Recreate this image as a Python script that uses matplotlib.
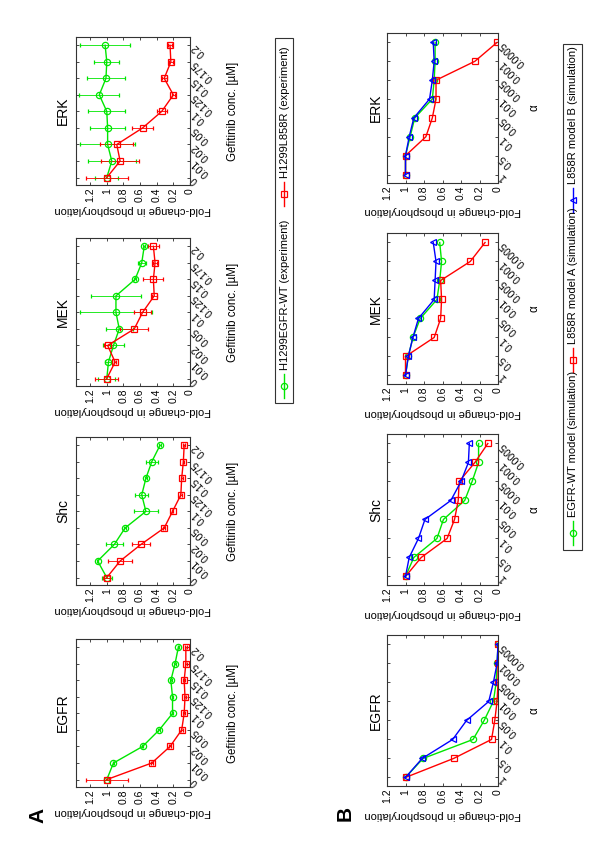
import matplotlib
matplotlib.use('Agg')
import matplotlib.pyplot as plt
from matplotlib.lines import Line2D
from matplotlib.patches import Rectangle
import numpy as np

plt.rcParams['font.family'] = ['Liberation Sans', 'DejaVu Sans']

## DATA
gef_conc = ['0', '0.01', '0.02', '0.05', '0.1', '0.125', '0.15', '0.175', '0.2']
alpha_vals = ['1', '0.5', '0.1', '0.05', '0.01', '0.005', '0.001', '0.0005']
fold_ticks = [0, 0.2, 0.4, 0.6, 0.8, 1.0, 1.2]
fold_labels = ['0', '0.2', '0.4', '0.6', '0.8', '1', '1.2']

# panel A - experiments (H1299EGFR-WT = wt, H1299L858R = mut)
egfr_wt = [1.0, 0.92, 0.57, 0.37, 0.21, 0.21, 0.23, 0.18, 0.14]
egfr_wt_err = [0.03, 0.01, 0.01, 0.01, 0.01, 0.01, 0.01, 0.01, 0.01]
egfr_mut = [1.0, 0.46, 0.24, 0.10, 0.07, 0.06, 0.07, 0.05, 0.05]
egfr_mut_err = [0.25, 0.01, 0.01, 0.01, 0.01, 0.01, 0.01, 0.01, 0.01]

shc_wt = [1.0, 1.11, 0.91, 0.78, 0.53, 0.58, 0.53, 0.46, 0.36]
shc_wt_err = [0.06, 0.01, 0.10, 0.01, 0.14, 0.08, 0.01, 0.07, 0.01]
shc_mut = [1.0, 0.84, 0.59, 0.31, 0.21, 0.11, 0.10, 0.08, 0.07]
shc_mut_err = [0.04, 0.14, 0.11, 0.01, 0.01, 0.01, 0.01, 0.01, 0.01]

mek_wt = [1.0, 0.98, 0.92, 0.85, 0.89, 0.89, 0.66, 0.58, 0.55]
mek_wt_err = [0.10, 0.04, 0.13, 0.16, 0.43, 0.30, 0.01, 0.05, 0.01]
mek_mut = [1.0, 0.90, 0.99, 0.67, 0.57, 0.43, 0.44, 0.42, 0.44]
mek_mut_err = [0.14, 0.01, 0.04, 0.17, 0.10, 0.03, 0.12, 0.02, 0.07]

erk_wt = [1.0, 0.94, 0.99, 0.99, 1.0, 1.09, 1.01, 1.0, 1.02]
erk_wt_err = [0.14, 0.29, 0.33, 0.21, 0.22, 0.24, 0.23, 0.15, 0.30]
erk_mut = [1.0, 0.84, 0.88, 0.57, 0.34, 0.20, 0.31, 0.23, 0.24]
erk_mut_err = [0.25, 0.23, 0.20, 0.13, 0.06, 0.02, 0.03, 0.02, 0.02]

# panel B - simulations (wt, model A, model B)
egfr_sim_wt = [1.0, 0.81, 0.27, 0.15, 0.05, 0.02, 0.01, 0.0]
egfr_sim_a = [1.0, 0.48, 0.07, 0.035, 0.01, 0.0, 0.0, 0.0]
egfr_sim_b = [1.0, 0.82, 0.49, 0.34, 0.10, 0.05, 0.01, 0.0]

shc_sim_wt = [1.0, 0.91, 0.66, 0.59, 0.36, 0.28, 0.21, 0.21]
shc_sim_a = [1.0, 0.83, 0.55, 0.47, 0.43, 0.42, 0.25, 0.11]
shc_sim_b = [1.0, 0.96, 0.86, 0.79, 0.51, 0.40, 0.32, 0.31]

mek_sim_wt = [1.0, 0.97, 0.92, 0.84, 0.66, 0.63, 0.61, 0.63]
mek_sim_a = [1.0, 1.0, 0.69, 0.62, 0.61, 0.62, 0.30, 0.14]
mek_sim_b = [1.0, 0.97, 0.92, 0.86, 0.69, 0.68, 0.67, 0.70]

erk_sim_wt = [1.0, 1.0, 0.95, 0.90, 0.71, 0.69, 0.68, 0.68]
erk_sim_a = [1.0, 1.0, 0.78, 0.71, 0.67, 0.67, 0.25, 0.01]
erk_sim_b = [1.0, 1.0, 0.96, 0.91, 0.74, 0.71, 0.69, 0.70]

GREEN = '#00e600'
RED = '#ff0000'
BLUE = '#0000ff'

W, H = 600, 851
fig = plt.figure(figsize=(6, 8.51), dpi=100)
fig.patch.set_facecolor('white')


def px_axes(x0, y0, x1, y1):
    # pixel box (top-left origin) -> figure axes
    return fig.add_axes([x0 / W, 1 - y1 / H, (x1 - x0) / W, (y1 - y0) / H])


def draw_panel(ax, series, cats, xmax, title, catlabel, title_x, lab_y, cat_x):
    y = np.arange(1, len(cats) + 1)
    for vals, errs, color, marker in series:
        ax.errorbar(vals, y, xerr=errs, color=color, marker=marker, mfc='none',
                    mec=color, ms=4.5, lw=1.0, elinewidth=0.6, capsize=1.5,
                    capthick=0.6, mew=0.9)
    ax.set_xlim(xmax, 0)
    ax.set_ylim(0.55, len(cats) + 0.5)
    ax.set_xticks(fold_ticks)
    ax.set_xticklabels(fold_labels, rotation=90, fontsize=7.5)
    ax.set_yticks(y)
    ax.set_yticklabels(cats, fontsize=7.5)
    ax.tick_params(direction='in', top=True, right=True, left=True, bottom=True,
                   labelleft=False, labelright=True, length=2.5, width=0.5,
                   pad=2)
    for lbl in ax.get_yticklabels():
        lbl.set_rotation(135)
        lbl.set_rotation_mode('anchor')
        lbl.set_ha('right')
        lbl.set_va('center')
    for s in ax.spines.values():
        s.set_linewidth(0.8)
        s.set_color('#333333')
    ax.text(title_x, 0.5, title, transform=ax.transAxes, rotation=90,
            ha='center', va='center', fontsize=10)
    ax.text(0.5, lab_y, 'Fold-change in phosphorylation', transform=ax.transAxes,
            rotation=180, ha='center', va='center', fontsize=8)
    ax.text(cat_x, 0.5, catlabel, transform=ax.transAxes, rotation=90,
            ha='center', va='center', fontsize=8.3)


# panel A boxes (pixels): ERK, MEK, Shc, EGFR from top
boxes_a = {'ERK': (76, 37, 190, 185), 'MEK': (76, 238, 190, 386),
           'Shc': (76, 437, 190, 585), 'EGFR': (76, 639, 190, 787)}
data_a = {'EGFR': [(egfr_wt, egfr_wt_err), (egfr_mut, egfr_mut_err)],
          'Shc': [(shc_wt, shc_wt_err), (shc_mut, shc_mut_err)],
          'MEK': [(mek_wt, mek_wt_err), (mek_mut, mek_mut_err)],
          'ERK': [(erk_wt, erk_wt_err), (erk_mut, erk_mut_err)]}
for name, box in boxes_a.items():
    ax = px_axes(*box)
    (wt, wt_e), (mu, mu_e) = data_a[name]
    draw_panel(ax, [(wt, wt_e, GREEN, 'o'), (mu, mu_e, RED, 's')],
               gef_conc, 1.37, name, 'Gefitinib conc. [\u00b5M]',
               -0.115, -0.17, 1.38)

boxes_b = {'ERK': (387, 33, 498, 183), 'MEK': (387, 233, 498, 384),
           'Shc': (387, 434, 498, 585), 'EGFR': (387, 635, 498, 786)}
data_b = {'EGFR': [egfr_sim_wt, egfr_sim_a, egfr_sim_b],
          'Shc': [shc_sim_wt, shc_sim_a, shc_sim_b],
          'MEK': [mek_sim_wt, mek_sim_a, mek_sim_b],
          'ERK': [erk_sim_wt, erk_sim_a, erk_sim_b]}
for name, box in boxes_b.items():
    ax = px_axes(*box)
    wt, ma, mb = data_b[name]
    draw_panel(ax, [(wt, None, GREEN, 'o'), (ma, None, RED, 's'),
                    (mb, None, BLUE, '<')],
               alpha_vals, 1.2, name, '\u03b1', -0.1, -0.19, 1.33)


def fx(x):
    return x / W


def fy(y):
    return 1 - y / H


def draw_legend(x0, x1, y0, y1, entries):
    fig.patches.append(Rectangle((fx(x0), fy(y1)), fx(x1) - fx(x0), fy(y0) - fy(y1),
                                 transform=fig.transFigure, fill=False,
                                 ec='#333333', lw=0.8))
    xc = (x0 + x1) / 2
    for color, marker, label, ym in entries:
        fig.lines.append(Line2D([fx(xc), fx(xc)], [fy(ym + 12), fy(ym - 12)],
                                transform=fig.transFigure, color=color, lw=1.0))
        fig.lines.append(Line2D([fx(xc)], [fy(ym)], transform=fig.transFigure,
                                color=color, marker=marker, mfc='none', ms=4.5,
                                mew=0.9))
        fig.text(fx(xc + 0.5), fy(ym - 16), label, rotation=90, rotation_mode='anchor',
                 ha='left', va='center', fontsize=8)


draw_legend(275, 293, 38, 403,
            [(GREEN, 'o', 'H1299EGFR-WT (experiment)', 386),
             (RED, 's', 'H1299L858R (experiment)', 194)])
draw_legend(563, 582, 44, 550,
            [(GREEN, 'o', 'EGFR-WT model (simulation)', 533),
             (RED, 's', 'L858R model A (simulation)', 360),
             (BLUE, '<', 'L858R model B (simulation)', 200)])

fig.text(fx(38), fy(815), 'A', rotation=90, ha='center', va='center',
         fontsize=15, fontweight='bold')
fig.text(fx(345), fy(813), 'B', rotation=90, ha='center', va='center',
         fontsize=15, fontweight='bold')

fig.savefig('out.png', dpi=100)
